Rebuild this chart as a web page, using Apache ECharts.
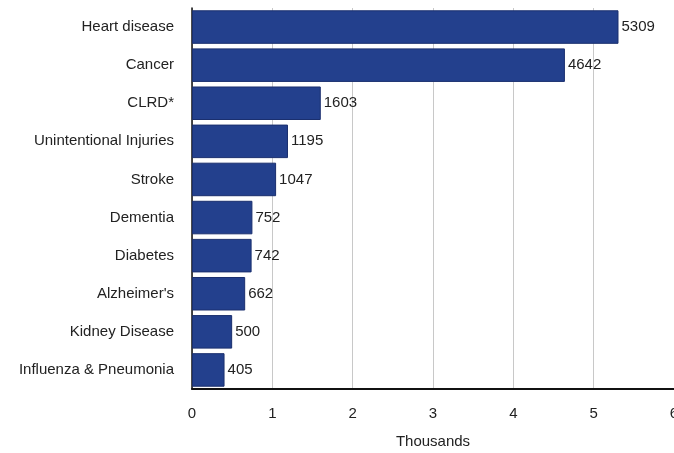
<!DOCTYPE html>
<html>
<head>
<meta charset="utf-8">
<script src="https://cdn.jsdelivr.net/npm/echarts@6/dist/echarts.min.js"></script>
<style>
  html, body { margin: 0; padding: 0; background: #fff; overflow: hidden; }
  #chart { width: 674px; height: 453px; }
</style>
</head>
<body>
<div id="chart"></div>
<script>
// top to bottom as in the picture
const causes = [
  'Heart disease', 'Cancer', 'CLRD*', 'Unintentional Injuries', 'Stroke',
  'Dementia', 'Diabetes', "Alzheimer's", 'Kidney Disease', 'Influenza & Pneumonia'
];
const deaths = [5309, 4642, 1603, 1195, 1047, 752, 742, 662, 500, 405];
const tickLabels = ['0', '1', '2', '3', '4', '5', '6'];

const chart = echarts.init(document.getElementById('chart'), null, { width: 674, height: 453 });
chart.setOption({
  animation: false,
  textStyle: { fontFamily: 'Liberation Sans, Arial, sans-serif' },
  grid: {
    left: 192, right: 0, top: 8, bottom: 64,
    containLabel: false,
    outerBoundsMode: 'none'
  },
  xAxis: {
    type: 'value',
    min: 0,
    max: 6000,
    interval: 1000,
    name: 'Thousands',
    nameLocation: 'middle',
    nameGap: 45,
    nameTextStyle: { fontSize: 15, color: '#222' },
    axisLine: { show: true, lineStyle: { color: '#111', width: 2 } },
    axisTick: { show: false },
    axisLabel: {
      fontSize: 15,
      color: '#222',
      margin: 17,
      formatter: (v) => tickLabels[Math.round(v / 1000)]
    },
    splitLine: { show: true, lineStyle: { color: '#c8c8c8', width: 1 } }
  },
  yAxis: {
    type: 'category',
    data: causes,
    inverse: true,
    axisLine: { show: true, lineStyle: { color: '#111', width: 1.5 } },
    axisTick: { show: false },
    axisLabel: { fontSize: 15, color: '#222', margin: 18 }
  },
  series: [{
    type: 'bar',
    data: deaths,
    barCategoryGap: '12%',
    itemStyle: { color: '#23408d', borderColor: '#1a2f6e', borderWidth: 1 },
    label: {
      show: true,
      position: 'right',
      distance: 3,
      fontSize: 15,
      color: '#222'
    }
  }]
});
</script>
</body>
</html>
